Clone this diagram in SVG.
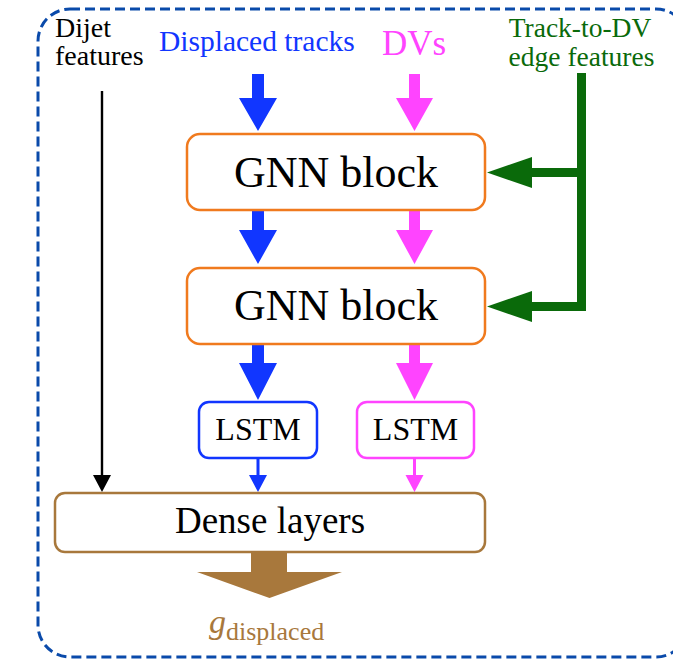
<svg xmlns="http://www.w3.org/2000/svg" width="673" height="659" viewBox="0 0 673 659">
<style>
text{font-family:"Liberation Serif","Times New Roman",serif}
.box{fill:#fff;stroke-width:2.5}
.gnn{stroke:#F07A1E}
.lb{stroke:#1136FF}
.lp{stroke:#FF44FF}
.dense{stroke:#A8783C}
.blue{fill:#1136FF}
.pink{fill:#FF44FF}
.green{fill:#0A6A0A}
.brown{fill:#A8783C}
</style>
<rect x="38" y="9" width="650" height="648" rx="32" fill="none" stroke="#0A4AAA" stroke-width="3" stroke-dasharray="10 5"/>
<g id="labels" font-family="Liberation Serif, Times New Roman, serif">
<text x="55" y="37" font-size="28">Dijet</text>
<text x="55" y="65" font-size="28">features</text>
<text x="159" y="51" font-size="29.5" fill="#1136FF">Displaced tracks</text>
<text x="382" y="55" font-size="35" fill="#FF44FF">DVs</text>
<text x="580" y="37" font-size="27.5" fill="#0A6A0A" text-anchor="middle">Track-to-DV</text>
<text x="581.5" y="66" font-size="27.5" fill="#0A6A0A" text-anchor="middle">edge features</text>
</g>
<g id="connectors">
<path class="blue" d="M252 74H264V98H277L258 131L239 98H252Z"/>
<path class="pink" d="M409 74H420V98H433L414.5 131L396 98H409Z"/>
<path class="blue" d="M252 210H264V230H277L258 264L239 230H252Z"/>
<path class="pink" d="M409 210H420V230H433L414.5 264L396 230H409Z"/>
<path class="blue" d="M252 344H264V363H277L258 400L239 363H252Z"/>
<path class="pink" d="M409 344H420V363H433L414.5 400L396 363H409Z"/>
<path class="blue" d="M256.5 458H259.5V475H267L258 492L249 475H256.5Z"/>
<path class="pink" d="M413 458H416V475H423.5L414.5 492L405.5 475H413Z"/>
<path fill="#000" d="M100.8 91H103.2V475H111L102 492L93 475H100.8Z"/>
<path class="green" d="M577 73H586V311H532V322L487 306.5L532 291V302H577V177H532V188L487 172.5L532 157V168H577Z"/>
<path class="brown" d="M251 552H287V572H342L269.5 598L197 572H251Z"/>
</g>
<g id="gnn1"><rect class="box gnn" x="187" y="134" width="298" height="76" rx="13"/><text x="336" y="187" font-size="44" text-anchor="middle" font-family="Liberation Serif, serif">GNN block</text></g>
<g id="gnn2"><rect class="box gnn" x="187" y="268" width="298" height="76" rx="13"/><text x="336" y="320" font-size="44" text-anchor="middle" font-family="Liberation Serif, serif">GNN block</text></g>
<g id="lstm1"><rect class="box lb" x="199" y="402" width="118" height="56" rx="10"/><text x="258" y="440" font-size="32" text-anchor="middle" font-family="Liberation Serif, serif">LSTM</text></g>
<g id="lstm2"><rect class="box lp" x="357" y="402" width="117" height="56" rx="10"/><text x="415.5" y="440" font-size="32" text-anchor="middle" font-family="Liberation Serif, serif">LSTM</text></g>
<g id="dense"><rect class="box dense" x="55" y="493" width="430" height="59" rx="10"/><text x="270" y="533" font-size="37" text-anchor="middle" font-family="Liberation Serif, serif">Dense layers</text></g>
<g id="output"><text x="209" y="633" font-size="34" fill="#A8783C" font-style="italic" font-family="Liberation Serif, serif">g<tspan font-size="26" font-style="normal" dy="7">displaced</tspan></text></g>
</svg>
